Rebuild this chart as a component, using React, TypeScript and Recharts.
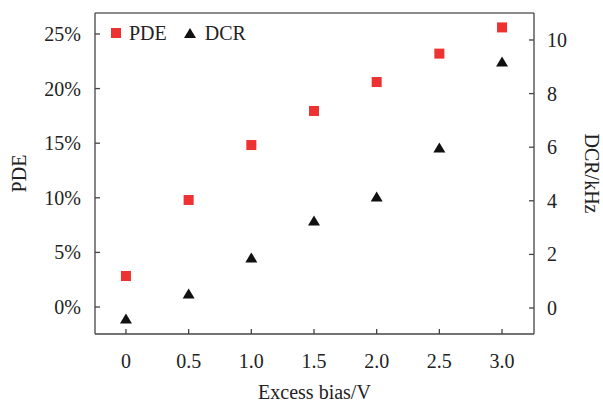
import React from 'react';
import {
  ScatterChart,
  Scatter,
  XAxis,
  YAxis,
  Legend,
  ReferenceLine,
} from 'recharts';

// excess bias (V)
const biasValues = [0, 0.5, 1.0, 1.5, 2.0, 2.5, 3.0];
// photon detection efficiency (%)
const pdeValues = [2.84, 9.8, 14.83, 17.95, 20.6, 23.2, 25.6];
// dark count rate (kHz)
const dcrValues = [-0.41, 0.52, 1.87, 3.25, 4.14, 5.97, 9.18];

const biasTicks = [0, 0.5, 1.0, 1.5, 2.0, 2.5, 3.0];
const pdeTicks = [0, 5, 10, 15, 20, 25];
const dcrTicks = [0, 2, 4, 6, 8, 10];

const rows = biasValues.map((b, i) => ({ bias: b, pde: pdeValues[i], dcr: dcrValues[i] }));

const FONT = '"Liberation Serif", "Times New Roman", serif';
const TEXT = '#222';
const AXIS = '#444';
const RED = '#ee3232';
const BLACK = '#111';

const PDE_DOMAIN: [number, number] = [-2.47, 26.92];

const BottomTick = (props: any) => {
  const { x, y, payload } = props;
  const v = payload.value;
  return (
    <g>
      <line x1={x} y1={y} x2={x} y2={y - 5} stroke={AXIS} strokeWidth={1.3} />
      <text x={x} y={y + 34} textAnchor="middle" fontFamily={FONT} fontSize={20} fill={TEXT}>
        {v === 0 ? '0' : v.toFixed(1)}
      </text>
    </g>
  );
};

const LeftTick = (props: any) => {
  const { x, y, payload } = props;
  return (
    <g>
      <line x1={x} y1={y} x2={x + 5} y2={y} stroke={AXIS} strokeWidth={1.3} />
      <text x={x - 14} y={y + 7} textAnchor="end" fontFamily={FONT} fontSize={20} fill={TEXT}>
        {`${payload.value}%`}
      </text>
    </g>
  );
};

const RightTick = (props: any) => {
  const { x, y, payload } = props;
  return (
    <g>
      <line x1={x} y1={y} x2={x - 5} y2={y} stroke={AXIS} strokeWidth={1.3} />
      <text x={x + 13} y={y + 7} textAnchor="start" fontFamily={FONT} fontSize={20} fill={TEXT}>
        {payload.value}
      </text>
    </g>
  );
};

const SquareDot = (props: any) => {
  const { cx, cy } = props;
  return <rect x={cx - 5} y={cy - 5} width={10} height={10} fill={RED} />;
};

const TriangleDot = (props: any) => {
  const { cx, cy } = props;
  return (
    <polygon
      points={`${cx},${cy - 5.5} ${cx - 6},${cy + 4.5} ${cx + 6},${cy + 4.5}`}
      fill={BLACK}
    />
  );
};

const LegendContent = () => (
  <div
    style={{
      display: 'flex',
      alignItems: 'center',
      fontFamily: FONT,
      fontSize: 20,
      lineHeight: '26px',
      color: TEXT,
    }}
  >
    <svg width={10} height={10} style={{ marginRight: 8 }}>
      <rect width={10} height={10} fill={RED} />
    </svg>
    <span style={{ marginRight: 17 }}>PDE</span>
    <svg width={12} height={10} style={{ marginRight: 9 }}>
      <polygon points="6,0 0,10 12,10" fill={BLACK} />
    </svg>
    <span>DCR</span>
  </div>
);

export default function App() {
  return (
    <div style={{ position: 'absolute', left: 0, top: 0 }}>
      <ScatterChart width={603} height={402} margin={{ top: 13, right: 0, bottom: 0, left: 0 }}>
        <XAxis
          type="number"
          dataKey="bias"
          domain={[-0.247, 3.255]}
          ticks={biasTicks}
          allowDataOverflow
          height={68}
          tickSize={0}
          tickMargin={0}
          tickLine={false}
          tick={<BottomTick />}
          axisLine={{ stroke: AXIS, strokeWidth: 1.3 }}
          label={{
            content: (p: any) => {
              const vb = p.viewBox || { x: 95, y: 334, width: 439 };
              return (
                <text
                  x={vb.x + vb.width / 2}
                  y={vb.y + 65}
                  textAnchor="middle"
                  fontFamily={FONT}
                  fontSize={20}
                  fill={TEXT}
                >
                  Excess bias/V
                </text>
              );
            },
          }}
        />
        <YAxis
          yAxisId="pde"
          type="number"
          dataKey="pde"
          orientation="left"
          domain={PDE_DOMAIN}
          ticks={pdeTicks}
          allowDataOverflow
          width={95}
          tickSize={0}
          tickMargin={0}
          tickLine={false}
          tick={<LeftTick />}
          axisLine={{ stroke: AXIS, strokeWidth: 1.3 }}
          label={{
            content: (p: any) => {
              const vb = p.viewBox || { x: 0, y: 13, height: 321 };
              const cx = vb.x + 26;
              const cy = vb.y + vb.height / 2;
              return (
                <text
                  x={cx}
                  y={cy}
                  transform={`rotate(-90, ${cx}, ${cy})`}
                  textAnchor="middle"
                  fontFamily={FONT}
                  fontSize={20}
                  fill={TEXT}
                >
                  PDE
                </text>
              );
            },
          }}
        />
        <YAxis
          yAxisId="dcr"
          type="number"
          dataKey="dcr"
          orientation="right"
          domain={[-0.97, 11.007]}
          ticks={dcrTicks}
          allowDataOverflow
          width={69}
          tickSize={0}
          tickMargin={0}
          tickLine={false}
          tick={<RightTick />}
          axisLine={{ stroke: AXIS, strokeWidth: 1.3 }}
          label={{
            content: (p: any) => {
              const vb = p.viewBox || { x: 534, y: 13, height: 321 };
              const cx = vb.x + 51;
              const cy = vb.y + vb.height / 2;
              return (
                <text
                  x={cx}
                  y={cy}
                  transform={`rotate(90, ${cx}, ${cy})`}
                  textAnchor="middle"
                  fontFamily={FONT}
                  fontSize={20}
                  fill={TEXT}
                >
                  DCR/kHz
                </text>
              );
            },
          }}
        />
        <ReferenceLine yAxisId="pde" y={PDE_DOMAIN[1]} stroke="#666" strokeWidth={1.3} />
        <Legend
          layout="horizontal"
          verticalAlign="middle"
          align="center"
          wrapperStyle={{ top: 20, left: 111, width: 'auto' }}
          content={<LegendContent />}
        />
        <Scatter
          name="PDE"
          data={rows}
          yAxisId="pde"
          dataKey="pde"
          fill={RED}
          shape={<SquareDot />}
          isAnimationActive={false}
        />
        <Scatter
          name="DCR"
          data={rows}
          yAxisId="dcr"
          dataKey="dcr"
          fill={BLACK}
          shape={<TriangleDot />}
          isAnimationActive={false}
        />
      </ScatterChart>
    </div>
  );
}
